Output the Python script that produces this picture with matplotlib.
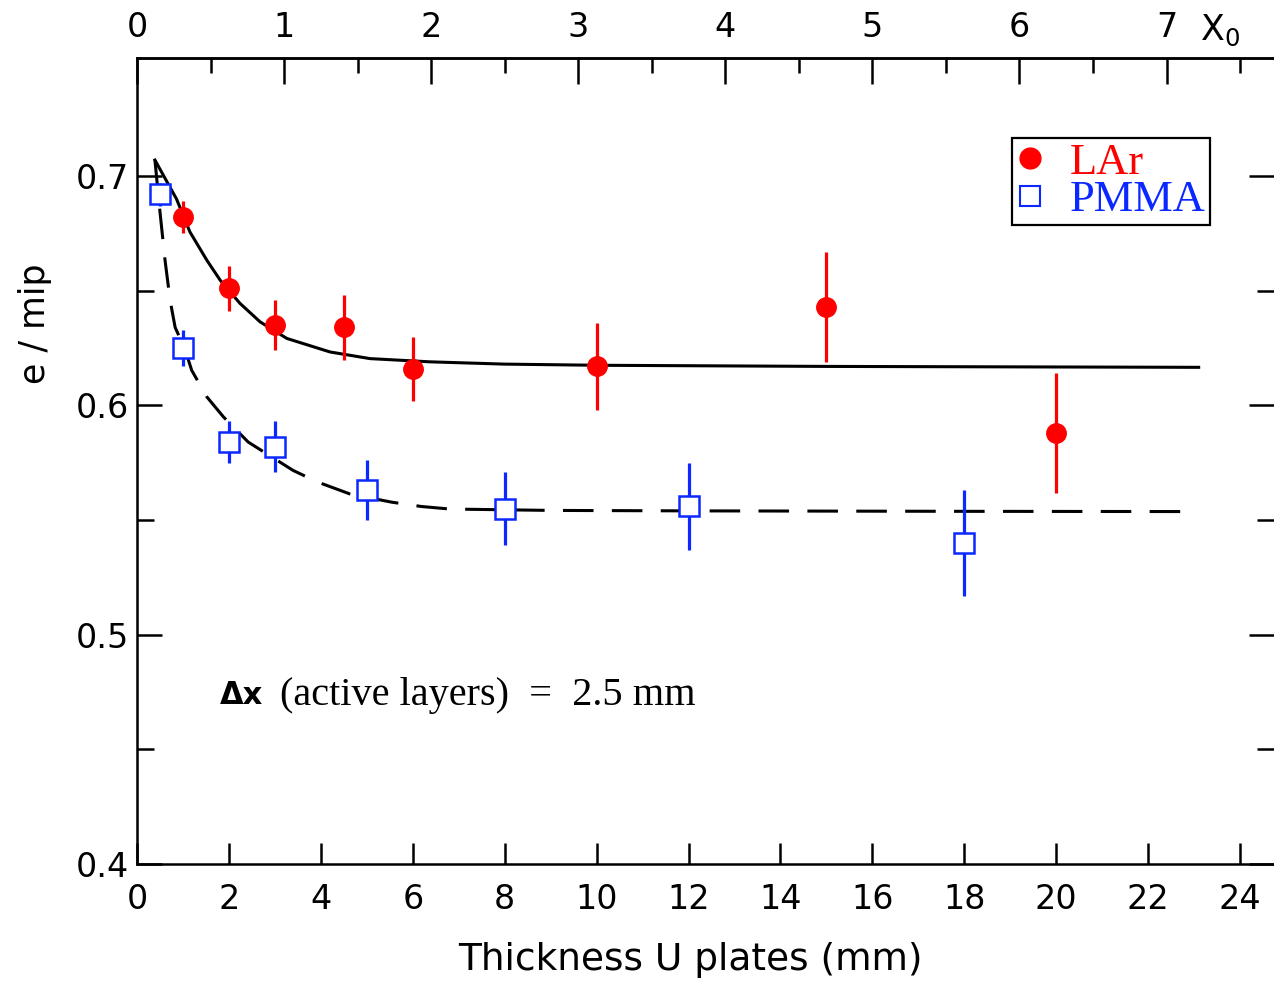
import matplotlib
matplotlib.use("Agg")
import matplotlib.pyplot as plt
from matplotlib.lines import Line2D
from matplotlib.ticker import MultipleLocator, FixedLocator

# ---- data ----
lar_x = [1.0, 2.0, 3.0, 4.5, 6.0, 10.0, 15.0, 20.0]
lar_y = [0.682, 0.651, 0.635, 0.634, 0.616, 0.617, 0.643, 0.588]
lar_err = [0.007, 0.010, 0.011, 0.014, 0.014, 0.019, 0.024, 0.026]

pmma_x = [0.5, 1.0, 2.0, 3.0, 5.0, 8.0, 12.0, 18.0]
pmma_y = [0.692, 0.625, 0.584, 0.582, 0.563, 0.555, 0.556, 0.540]
pmma_err = [0.005, 0.008, 0.009, 0.011, 0.013, 0.016, 0.019, 0.023]

# curves
lar_fit_x = [0.39, 0.86, 1.15, 1.52, 1.81, 2.24, 2.68, 3.26, 4.2, 5.07, 6.37, 8.0, 10.0, 15.0, 23.1]
lar_fit_y = [0.707, 0.690, 0.6757, 0.6633, 0.6546, 0.6445, 0.6364, 0.6292, 0.6233, 0.6204, 0.619, 0.6180, 0.6175, 0.6170, 0.6166]

pmma_fit_x = [0.39, 0.50, 0.61, 0.72, 0.83, 1.04, 1.19, 1.52, 1.88, 2.42, 3.40, 3.94, 4.63, 5.54, 6.19, 6.81, 9.0, 12.0, 18.0, 22.8]
pmma_fit_y = [0.707, 0.6844, 0.6633, 0.6459, 0.634, 0.6247, 0.6153, 0.6037, 0.595, 0.584, 0.5716, 0.5665, 0.5614, 0.5578, 0.5559, 0.5548, 0.5542, 0.5540, 0.5538, 0.5537]

x_ticks = list(range(0, 25, 2))
y_ticks = [0.4, 0.5, 0.6, 0.7]
y_minor = [0.45, 0.55, 0.65]
x0_ticks = [0, 1, 2, 3, 4, 5, 6, 7]
X0_MM = 3.2

RED = "#ff0000"
BLUE = "#0a28ff"

W, H = 1274, 982
fig = plt.figure(figsize=(W / 100, H / 100), dpi=100)
L, R, B, T = 137, 1274, 864, 58
ax = fig.add_axes([L / W, 1 - B / H, (R - L) / W, (B - T) / H])

ax.plot(lar_fit_x, lar_fit_y, color="black", lw=2.2, zorder=2)
ax.plot(pmma_fit_x, pmma_fit_y, color="black", lw=2.2, dashes=(10, 6), zorder=2)

ax.errorbar(lar_x, lar_y, yerr=lar_err, fmt="o", color=RED, ms=14, elinewidth=2.3,
            capsize=0, mec=RED, zorder=4)
ax.errorbar(pmma_x, pmma_y, yerr=pmma_err, fmt="s", color=BLUE, ms=14, elinewidth=2.3,
            capsize=0, mfc="white", mec=BLUE, mew=1.8, zorder=4)

ax.set_xlim(0, (R - L) / 45.96)
ax.set_ylim(0.4, 0.7515)

tick_font = dict(family="DejaVu Sans", size=24)
ax.set_xticks(x_ticks)
ax.set_xticklabels([str(v) for v in x_ticks], **tick_font)
ax.set_yticks(y_ticks)
ax.set_yticklabels([f"{v:.1f}" for v in y_ticks], **tick_font)
ax.yaxis.set_minor_locator(FixedLocator(y_minor))
ax.tick_params(axis="x", which="major", direction="in", length=15, width=1.8, pad=14, top=False)
ax.tick_params(axis="y", which="major", direction="in", length=18, width=1.8, pad=6, right=True)
ax.tick_params(axis="y", which="minor", direction="in", length=12, width=1.8, right=True)
ax.tick_params(axis="x", which="minor", bottom=False, top=False)

for s in ["left", "bottom", "top"]:
    ax.spines[s].set_linewidth(1.8)
ax.spines["right"].set_visible(False)

sec = ax.secondary_xaxis("top", functions=(lambda v: v / X0_MM, lambda v: v * X0_MM))
sec.set_xticks(x0_ticks)
sec.set_xticklabels([str(v) for v in x0_ticks], **tick_font)
sec.xaxis.set_minor_locator(MultipleLocator(0.5))
sec.tick_params(axis="x", which="major", direction="in", length=19, width=1.8, pad=10)
sec.tick_params(axis="x", which="minor", direction="in", length=11, width=1.8)
sec.spines["top"].set_linewidth(1.8)
fig.text(1220 / W, 1 - 30 / H, "X$_0$", fontsize=25, family="DejaVu Sans", ha="center", va="center")

fig.text(690 / W, 1 - 960 / H, "Thickness U plates (mm)", fontsize=27, family="DejaVu Sans",
         ha="center", va="center")
fig.text(35 / W, 1 - 324 / H, "e / mip", fontsize=25, family="DejaVu Sans",
         ha="center", va="center", rotation=90)

fig.text(220 / W, 1 - 695 / H, "Δx", fontsize=22, family="DejaVu Sans", weight="bold",
         ha="left", va="center")
fig.text(280 / W, 1 - 695 / H, "(active layers)  =  2.5 mm", fontsize=29,
         family="Liberation Serif", ha="left", va="center")

handles = [Line2D([], [], ls="none", marker="o", ms=15, color=RED, mec=RED),
           Line2D([], [], ls="none", marker="s", ms=14, mfc="white", mec=BLUE, mew=1.5)]
leg = ax.legend(handles, ["LAr", "PMMA"], loc="upper left",
                bbox_to_anchor=(1012 / W, 1 - 138 / H), bbox_transform=fig.transFigure,
                prop=dict(family="Liberation Serif", size=32), labelcolor=[RED, BLUE],
                fancybox=False, edgecolor="black", framealpha=1, borderaxespad=0,
                handlelength=0.6, handletextpad=0.6, borderpad=0.1, labelspacing=-0.05)
leg.get_frame().set_linewidth(1.6)

fig.savefig("out.png", dpi=100)
